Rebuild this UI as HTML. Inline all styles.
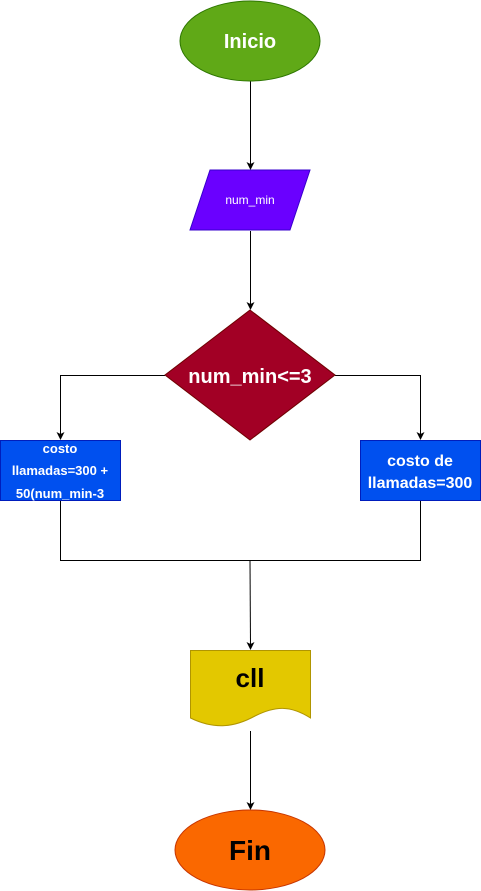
<!DOCTYPE html>
<html><head><meta charset="utf-8"><style>
html,body{margin:0;padding:0;background:#fff;}
svg{display:block;font-family:"Liberation Sans",Arial,sans-serif;font-weight:bold;}
</style></head><body>
<svg width="481" height="891" viewBox="0 0 481 891" xmlns="http://www.w3.org/2000/svg">
<g stroke="#000" stroke-width="1" fill="none">
<line x1="250.5" y1="81" x2="250.5" y2="166"/>
<line x1="250.5" y1="231" x2="250.5" y2="306"/>
<polyline points="165,375.5 60.5,375.5 60.5,436"/>
<polyline points="335,375.5 420.5,375.5 420.5,436"/>
<polyline points="60.5,500 60.5,560.5 420.5,560.5 420.5,500"/>
<line x1="250" y1="560" x2="250.5" y2="646"/>
<line x1="250.5" y1="731" x2="250.5" y2="806"/>
</g>
<g fill="#000">
<polygon points="246.5,162 250.5,170 254.5,162 250.5,164"/>
<polygon points="246.5,302 250.5,310 254.5,302 250.5,304"/>
<polygon points="56.5,432 60.5,440 64.5,432 60.5,434"/>
<polygon points="416.5,432 420.5,440 424.5,432 420.5,434"/>
<polygon points="246.5,642 250.5,650 254.5,642 250.5,644"/>
<polygon points="246.5,802 250.5,810 254.5,802 250.5,804"/>
</g>
<ellipse cx="250" cy="41" rx="70" ry="40" fill="#60a917" stroke="#2d7600"/>
<text x="250" y="48" font-size="20" fill="#fff" text-anchor="middle">Inicio</text>
<polygon points="210,170 310,170 290,230 190,230" fill="#6a00ff" stroke="#3700cc"/>
<text x="250" y="204" font-size="12" font-weight="normal" fill="#fff" text-anchor="middle">num_min</text>
<polygon points="250,310 335,375 250,440 165,375" fill="#a20025" stroke="#6f0000"/>
<text x="250" y="383" font-size="20" fill="#fff" text-anchor="middle">num_min&lt;=3</text>
<rect x="0.5" y="440.5" width="120" height="60" fill="#0050ef" stroke="#001dbc"/>
<text font-size="13" fill="#fff" text-anchor="middle"><tspan x="60" y="453">costo</tspan><tspan x="60" y="475">llamadas=300 +</tspan><tspan x="60" y="498">50(num_min-3</tspan></text>
<rect x="360.5" y="440.5" width="120" height="60" fill="#0050ef" stroke="#001dbc"/>
<text font-size="16" fill="#fff" text-anchor="middle"><tspan x="420" y="466">costo de</tspan><tspan x="420" y="488">llamadas=300</tspan></text>
<path d="M190.5,650.5 H310.5 V718 C290,705 275,706 255,716 C235,727 215,730 190.5,718 Z" fill="#e3c800" stroke="#b09500"/>
<text x="250" y="687" font-size="26" fill="#000" text-anchor="middle">cll</text>
<ellipse cx="250" cy="850" rx="75" ry="40" fill="#fa6800" stroke="#c73500"/>
<text x="250" y="860" font-size="28" fill="#000" text-anchor="middle">Fin</text>
</svg>
</body></html>
